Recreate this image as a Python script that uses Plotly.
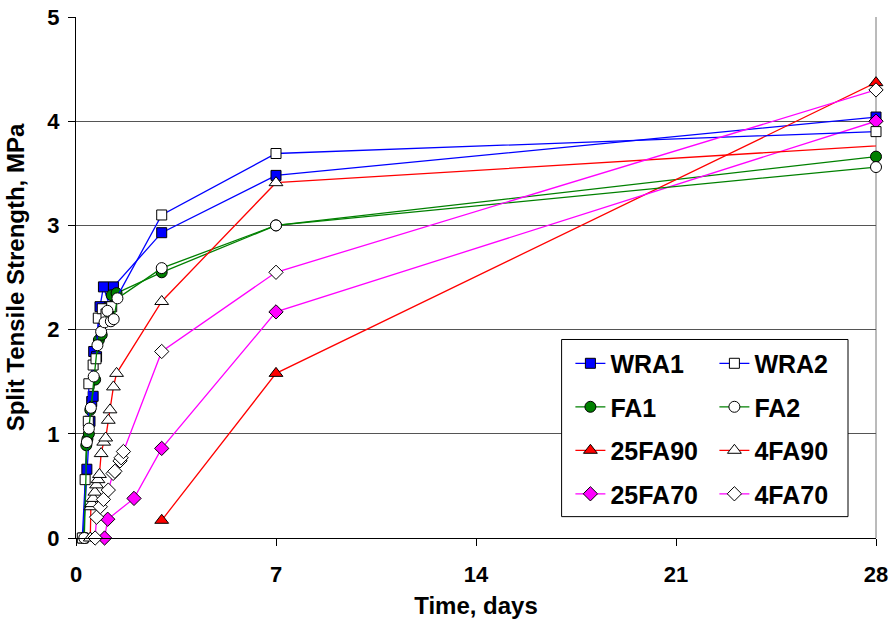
import plotly.graph_objects as go

# Split tensile strength development, ages in days
wra1_t = [0.25, 0.38, 0.49, 0.55, 0.60, 0.62, 0.72, 0.84, 0.96, 1.19, 1.31, 3, 7, 28]
wra1_y = [0, 0.66, 1.12, 1.31, 1.36, 1.79, 1.74, 2.22, 2.41, 2.22, 2.41, 2.93, 3.48, 4.04]

wra2_t = [0.22, 0.32, 0.43, 0.45, 0.60, 0.70, 0.78, 0.92, 1.05, 1.25, 3, 7, 28]
wra2_y = [0, 0.56, 1.12, 1.48, 1.66, 1.72, 2.11, 2.20, 2.15, 2.22, 3.10, 3.69, 3.90]

fa1_t = [0.27, 0.36, 0.40, 0.45, 0.50, 0.67, 0.80, 0.90, 1.02, 1.12, 1.25, 1.42, 3, 7, 28]
fa1_y = [0, 0.89, 0.95, 1.00, 1.23, 1.52, 1.90, 1.95, 2.20, 2.17, 2.33, 2.35, 2.55, 3.00, 3.66]

fa2_t = [0.29, 0.38, 0.45, 0.52, 0.62, 0.75, 0.88, 1.00, 1.10, 1.22, 1.32, 1.45, 3, 7, 28]
fa2_y = [0, 0.92, 1.05, 1.25, 1.55, 1.85, 1.98, 2.07, 2.18, 2.08, 2.10, 2.30, 2.59, 3.00, 3.56]

fa25_90_t = [3, 7, 28]
fa25_90_y = [0.17, 1.58, 4.37]

fa4_90_t = [0.50, 0.52, 0.55, 0.60, 0.66, 0.72, 0.77, 0.82, 0.88, 0.97, 1.04, 1.13, 1.19, 1.31, 1.42, 3, 7, 29]
fa4_90_y = [0, 0.30, 0.33, 0.38, 0.44, 0.51, 0.56, 0.61, 0.81, 0.92, 0.96, 1.13, 1.23, 1.45, 1.58, 2.27, 3.41, 3.78]

fa25_70_t = [1.00, 1.11, 2.03, 3, 7, 28]
fa25_70_y = [0, 0.18, 0.38, 0.86, 2.17, 4.00]

fa4_70_t = [0.67, 0.72, 0.85, 0.96, 1.13, 1.30, 1.36, 1.54, 1.58, 1.66, 3, 7, 28]
fa4_70_y = [0, 0.20, 0.30, 0.37, 0.46, 0.62, 0.64, 0.74, 0.77, 0.83, 1.79, 2.55, 4.30]

x_ticks = [0, 7, 14, 21, 28]
y_ticks = [0, 1, 2, 3, 4, 5]

FONT = "Liberation Sans, Arial, sans-serif"

series = [
    # name, t, y, line colour, symbol, fill, legend, row
    ("WRA1", wra1_t, wra1_y, "#0000FF", "square", "#0000FF", "legend", 0),
    ("FA1", fa1_t, fa1_y, "#008000", "circle", "#008000", "legend", 1),
    ("25FA90", fa25_90_t, fa25_90_y, "#FF0000", "triangle-up", "#FF0000", "legend", 2),
    ("25FA70", fa25_70_t, fa25_70_y, "#FF00FF", "diamond", "#FF00FF", "legend", 3),
    ("WRA2", wra2_t, wra2_y, "#0000FF", "square", "#FFFFFF", "legend2", 0),
    ("FA2", fa2_t, fa2_y, "#008000", "circle", "#FFFFFF", "legend2", 1),
    ("4FA90", fa4_90_t, fa4_90_y, "#FF0000", "triangle-up", "#FFFFFF", "legend2", 2),
    ("4FA70", fa4_70_t, fa4_70_y, "#FF00FF", "diamond", "#FFFFFF", "legend2", 3),
]

sizes = {"square": 10, "circle": 11, "triangle-up": 12, "diamond": 11}

fig = go.Figure()
for name, t, y, col, sym, fill, leg, g in series:
    fig.add_trace(go.Scatter(
        x=t, y=y, name=name, mode="lines+markers",
        line=dict(color=col, width=1.3),
        marker=dict(symbol=sym, size=sizes[sym], color=fill,
                    line=dict(color="#000000", width=1)),
        legend=leg, legendgroup=name, legendrank=g + 1,
        cliponaxis=False,
    ))

legend_common = dict(
    font=dict(family=FONT, size=25, color="#000000", weight="bold"),
    bgcolor="rgba(0,0,0,0)", borderwidth=0,
    tracegroupgap=8, yanchor="top", xanchor="left",
    itemwidth=30, traceorder="grouped",
)

fig.update_layout(
    width=891, height=625,
    margin=dict(l=76, r=15, t=17, b=87, autoexpand=False),
    paper_bgcolor="#FFFFFF", plot_bgcolor="#FFFFFF",
    font=dict(family=FONT, color="#000000"),
    showlegend=True,
    legend=dict(x=0.618, y=0.379, **legend_common),
    legend2=dict(x=0.798, y=0.379, **legend_common),
    xaxis=dict(
        range=[0, 28], tickvals=x_ticks, ticktext=[str(v) for v in x_ticks],
        showgrid=False, zeroline=False, automargin=False,
        showline=True, linecolor="#000000", linewidth=1,
        ticks="outside", ticklen=7, tickcolor="#000000",
        tickfont=dict(family=FONT, size=22, weight="bold"), ticklabelstandoff=10,
        title=dict(text="Time, days", font=dict(family=FONT, size=24, weight="bold"), standoff=10),
    ),
    yaxis=dict(
        range=[0, 5], tickvals=y_ticks, ticktext=[str(v) for v in y_ticks],
        showgrid=True, gridcolor="#555555", gridwidth=1, zeroline=False, automargin=True,
        showline=True, linecolor="#000000", linewidth=1,
        ticks="outside", ticklen=7, tickcolor="#000000",
        tickfont=dict(family=FONT, size=22, weight="bold"), ticklabelstandoff=4,
        title=dict(text="Split Tensile Strength, MPa", font=dict(family=FONT, size=24, weight="bold"), standoff=15),
    ),
    shapes=[
        # legend frame
        dict(type="rect", xref="paper", yref="paper",
             x0=0.607, x1=0.965, y0=0.041, y1=0.381,
             line=dict(color="#000000", width=1), fillcolor="#FFFFFF", layer="above"),
        # right border of the plot area
        dict(type="line", xref="paper", yref="paper", x0=1, x1=1, y0=0, y1=1,
             line=dict(color="#777777", width=1), layer="below"),
    ],
)

fig.write_html("out.html")
